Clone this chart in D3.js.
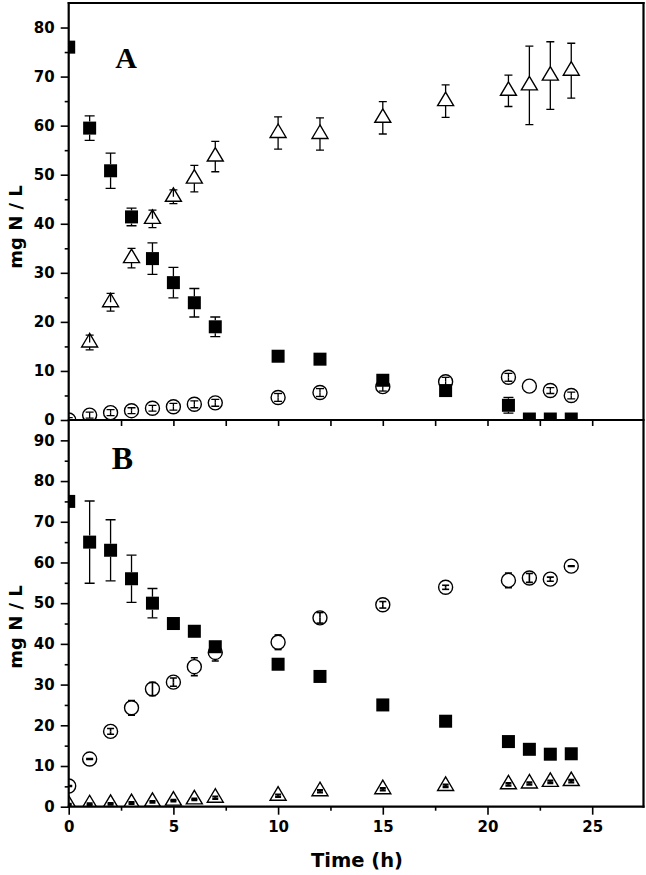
<!DOCTYPE html>
<html><head><meta charset="utf-8">
<script src="https://cdn.jsdelivr.net/npm/d3@7"></script>
<style>body{margin:0;background:#fff}svg{display:block}</style>
</head><body>
<script>
// ---- data ----
const times = [0,1,2,3,4,5,6,7,10,12,15,18,21,22,23,24];
const timesTriA = [1,2,3,4,5,6,7,10,12,15,18,21,22,23,24];
// Panel A
const sqA = [76.0,59.5,50.8,41.4,32.9,28.0,23.9,19.0,13.0,12.4,8.1,6.0,3.0,0.2,0.2,0.2];
const sqAErr = [0,2.5,3.6,1.8,3.2,3.1,2.9,2.0,0.9,0.9,0,0,1.6,0,0,0];
const triA = [15.8,24.0,33.0,41.0,45.5,49.2,53.7,58.5,58.3,61.6,65.0,67.1,68.2,70.2,71.2];
const triAErr = [1.5,1.8,2.0,1.8,1.4,2.7,3.1,3.3,3.3,3.3,3.3,3.2,8.0,6.9,5.6];
const circA = [0,1.0,1.5,1.9,2.4,2.7,3.2,3.5,4.6,5.6,6.8,7.8,8.7,6.9,6.0,5.0];
const circAErr = [0.5,0.6,0.6,0.6,0.6,0.7,0.7,0.7,0.8,0.8,0.9,0.9,0.8,0,0.6,0.7];
// Panel B
const sqB = [75.0,65.0,63.0,56.0,50.0,45.0,43.1,39.3,35.0,32.0,25.0,21.0,16.0,14.1,12.9,13.0];
const sqBErr = [0,10.1,7.5,5.8,3.6,0,0,0,0,0,0,0,0,0,0,0];
const circB = [5.1,11.7,18.5,24.3,28.9,30.6,34.4,37.9,40.4,46.4,49.6,53.9,55.6,56.2,55.9,59.1];
const circBErr = [0.1,0.1,0.7,1.8,1.6,1.0,2.2,2.1,1.8,1.3,0.8,0.5,1.8,1.1,0.5,0.1];
const triB = [0.5,0.6,0.7,0.9,1.2,1.5,1.8,2.2,2.7,3.8,4.3,5.1,5.5,5.7,6.1,6.3];
const triBErr = [0.2,0.2,0.2,0.2,0.2,0.2,0.2,0.3,0.3,0.3,0.3,0.3,0.3,0.3,0.3,0.3];
const xTicks = [0,5,10,15,20,25];
const yTicksA = [0,10,20,30,40,50,60,70,80];
const yTicksB = [0,10,20,30,40,50,60,70,80,90];

// ---- layout ----
const W = 646, H = 875;
const L = 68.7, R = 643.5;
const svg = d3.select("body").append("svg").attr("width", W).attr("height", H);
const x = d3.scaleLinear().domain([0, 27.45]).range([L, R]);
const yA = d3.scaleLinear().domain([0, 85]).range([420, 3]);
const yB = d3.scaleLinear().domain([0, 95]).range([806.7, 420]);
const font = "'DejaVu Sans', Verdana, sans-serif";

const defs = svg.append("defs");
defs.append("clipPath").attr("id","clipA").append("rect")
  .attr("x", L).attr("y", 3).attr("width", R - L).attr("height", 417);
defs.append("clipPath").attr("id","clipB").append("rect")
  .attr("x", L).attr("y", 420).attr("width", R - L).attr("height", 386.7);

const SQ = 13, CR = 7, TW = 16, TH = 13.5;
const ext = {
  sq: [SQ/2, SQ/2],
  circ: [CR, CR],
  tri: [TH*2/3, TH/3]
};

function drawSeries(g, y, xs, vals, errs, type, capW, sw) {
  const pts = xs.map((t, i) => ({x: x(t), y: y(vals[i]), v: vals[i], e: errs[i]}));
  pts.forEach(p => {
    if (type === "sq") {
      g.append("rect").attr("x", p.x - SQ/2).attr("y", p.y - SQ/2)
        .attr("width", SQ).attr("height", SQ).attr("fill", "#000");
    } else if (type === "circ") {
      g.append("circle").attr("cx", p.x).attr("cy", p.y).attr("r", CR)
        .attr("fill", "#fff").attr("stroke", "#000").attr("stroke-width", 1.4);
    } else {
      const top = p.y - TH*2/3, bot = p.y + TH/3;
      g.append("path").attr("d", `M${p.x},${top}L${p.x - TW/2},${bot}L${p.x + TW/2},${bot}Z`)
        .attr("fill", "#fff").attr("stroke", "#000").attr("stroke-width", 1.4).attr("stroke-linejoin","miter");
    }
  });
  // error bars (start at marker edge unless the error lies inside the marker)
  pts.forEach(p => {
    if (!p.e) return;
    const yt = y(p.v + p.e), yb = y(p.v - p.e);
    const dUp = p.y - yt, dDn = yb - p.y;
    const [eu, ed] = ext[type];
    const s0u = dUp > eu ? p.y - eu : p.y;
    const s0d = dDn > ed ? p.y + ed : p.y;
    g.append("line").attr("x1", p.x).attr("x2", p.x).attr("y1", s0u).attr("y2", yt)
      .attr("stroke", "#000").attr("stroke-width", sw);
    g.append("line").attr("x1", p.x).attr("x2", p.x).attr("y1", s0d).attr("y2", yb)
      .attr("stroke", "#000").attr("stroke-width", sw);
    [yt, yb].forEach(yy => g.append("line").attr("x1", p.x - capW/2).attr("x2", p.x + capW/2)
      .attr("y1", yy).attr("y2", yy).attr("stroke", "#000").attr("stroke-width", sw));
  });
}

const gA = svg.append("g").attr("clip-path", "url(#clipA)");
drawSeries(gA, yA, times, circA, circAErr, "circ", 8, 1.3);
drawSeries(gA, yA, timesTriA, triA, triAErr, "tri", 8, 1.3);
drawSeries(gA, yA, times, sqA, sqAErr, "sq", 10, 1.3);

const gB = svg.append("g").attr("clip-path", "url(#clipB)");
drawSeries(gB, yB, times, triB, triBErr, "tri", 6, 2.2);
drawSeries(gB, yB, times, circB, circBErr, "circ", 7, 1.6);
drawSeries(gB, yB, times, sqB, sqBErr, "sq", 10, 1.3);

// ---- axes ----
function styleAxis(g) {
  g.select(".domain").remove();
  g.selectAll("line").attr("stroke", "#000").attr("stroke-width", 1.6);
  g.selectAll("text").attr("font-family", font).attr("font-weight", "bold")
    .attr("font-size", 15).attr("fill", "#000");
}
const axA = svg.append("g").attr("transform", `translate(${L},0)`)
  .call(d3.axisLeft(yA).tickValues(yTicksA).tickSize(8).tickPadding(6).tickSizeOuter(0));
styleAxis(axA);
const axAm = svg.append("g").attr("transform", `translate(${L},0)`)
  .call(d3.axisLeft(yA).tickValues(d3.range(5, 85, 10)).tickSize(4).tickFormat(""));
styleAxis(axAm);
const axB = svg.append("g").attr("transform", `translate(${L},0)`)
  .call(d3.axisLeft(yB).tickValues(yTicksB).tickSize(8).tickPadding(6).tickSizeOuter(0));
styleAxis(axB);
const axBm = svg.append("g").attr("transform", `translate(${L},0)`)
  .call(d3.axisLeft(yB).tickValues(d3.range(5, 95, 10)).tickSize(4).tickFormat(""));
styleAxis(axBm);
const axXA = svg.append("g").attr("transform", `translate(0,420)`)
  .call(d3.axisBottom(x).tickValues(d3.range(2.5, 27.5, 2.5)).tickSize(6).tickFormat(""));
styleAxis(axXA);
const axXB = svg.append("g").attr("transform", `translate(0,806.7)`)
  .call(d3.axisBottom(x).tickValues(xTicks).tickSize(8).tickPadding(6.5).tickSizeOuter(0));
styleAxis(axXB);
const axXBm = svg.append("g").attr("transform", `translate(0,806.7)`)
  .call(d3.axisBottom(x).tickValues(d3.range(2.5, 27.5, 5)).tickSize(4).tickFormat(""));
styleAxis(axXBm);

// frame lines
const fr = svg.append("g").attr("stroke", "#000").attr("stroke-width", 2.2).attr("fill", "none");
fr.append("line").attr("x1", L).attr("x2", L).attr("y1", 2).attr("y2", 807.8);
fr.append("line").attr("x1", R).attr("x2", R).attr("y1", 2).attr("y2", 807.8);
fr.append("line").attr("x1", L - 1).attr("x2", R + 1).attr("y1", 3).attr("y2", 3);
fr.append("line").attr("x1", L - 1).attr("x2", R + 1).attr("y1", 420).attr("y2", 420);
fr.append("line").attr("x1", L - 1).attr("x2", R + 1).attr("y1", 806.7).attr("y2", 806.7);

// ---- labels ----
svg.append("text").attr("transform", "translate(22,227) rotate(-90)")
  .attr("text-anchor", "middle").attr("font-family", font).attr("font-weight", "bold")
  .attr("font-size", 18).text("mg N / L");
svg.append("text").attr("transform", "translate(22,627) rotate(-90)")
  .attr("text-anchor", "middle").attr("font-family", font).attr("font-weight", "bold")
  .attr("font-size", 18).text("mg N / L");
svg.append("text").attr("x", 357).attr("y", 866.5).attr("text-anchor", "middle")
  .attr("font-family", font).attr("font-weight", "bold").attr("font-size", 19.5).text("Time (h)");
svg.append("text").attr("x", 126).attr("y", 68).attr("text-anchor", "middle")
  .attr("font-family", "'Liberation Serif', 'Times New Roman', serif").attr("font-weight", "bold")
  .attr("font-size", 30).text("A");
svg.append("text").attr("x", 122.5).attr("y", 469).attr("text-anchor", "middle")
  .attr("font-family", "'Liberation Serif', 'Times New Roman', serif").attr("font-weight", "bold")
  .attr("font-size", 32).text("B");
</script>
</body></html>
